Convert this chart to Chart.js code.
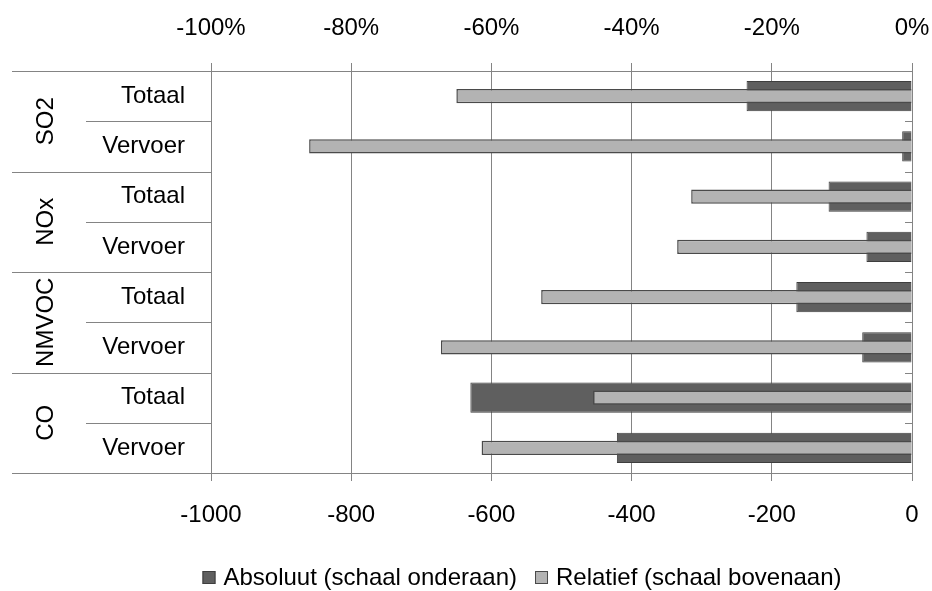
<!DOCTYPE html>
<html>
<head>
<meta charset="utf-8">
<script src="https://cdn.jsdelivr.net/npm/chart.js@4.4.1/dist/chart.umd.min.js"></script>
<style>
  html, body { margin: 0; padding: 0; background: #ffffff; }
  canvas { display: block; }
</style>
</head>
<body>
<canvas id="emissions" width="932" height="591"></canvas>
<script>
// Pollutant groups and the two rows shown for each of them
const groups = ['SO2', 'NOx', 'NMVOC', 'CO'];
const subCategories = ['Totaal', 'Vervoer'];

// Change in emissions: absolute (bottom scale) and relative in % (top scale)
const absoluteValues = [-236, -14, -119, -65, -165, -71, -630, -421];
const relativeValues = [-65.0, -86.0, -31.5, -33.5, -52.9, -67.2, -45.5, -61.4];

// Axis ranges and tick steps
const absoluteAxis = { min: -1000, max: 0, step: 200 };
const relativeAxis = { min: -100, max: 0, step: 20 };

const seriesNames = ['Absoluut (schaal onderaan)', 'Relatief (schaal bovenaan)'];

const categories = groups.flatMap(() => subCategories);

const FONT = "'Liberation Sans', Arial, sans-serif";
const GRID = '#848484';
Chart.defaults.font.family = FONT;
Chart.defaults.font.size = 24;
Chart.defaults.color = '#000000';

// Draws the two-level category frame, group names and the key below the chart
const labelFrame = {
  id: 'labelFrame',
  afterDraw(chart) {
    const { ctx, chartArea: a, scales: { y } } = chart;
    const line = (x1, y1, x2, y2) => {
      ctx.beginPath(); ctx.moveTo(x1, y1); ctx.lineTo(x2, y2); ctx.stroke();
    };
    ctx.save();
    ctx.strokeStyle = GRID;
    ctx.lineWidth = 1;

    for (let i = 0; i <= categories.length; i++) {
      const py = Math.round(y.getPixelForValue(i - 0.5)) + 0.5;
      const x0 = i % subCategories.length === 0 ? 12 : 86;
      line(x0, py, a.left, py);
      line(a.right - 7, py, a.right, py);
    }
    const lx = Math.round(a.left) + 0.5;
    line(lx, a.top - 8, lx, a.bottom + 8);

    // group names, written bottom-to-top
    ctx.fillStyle = '#000000';
    ctx.font = '24px ' + FONT;
    ctx.textAlign = 'center';
    ctx.textBaseline = 'middle';
    groups.forEach((g, k) => {
      const cy = y.getPixelForValue(k * subCategories.length + (subCategories.length - 1) / 2);
      ctx.save();
      ctx.translate(45, cy);
      ctx.rotate(-Math.PI / 2);
      ctx.fillText(g, 0, 1);
      ctx.restore();
    });

    // key
    const sets = chart.data.datasets;
    const box = 13, gap = 8, between = 18;
    ctx.textAlign = 'left';
    const widths = sets.map(d => box + gap + ctx.measureText(d.label).width);
    const total = widths.reduce((s, w) => s + w, 0) + between * (sets.length - 1);
    let x = 522 - total / 2;
    const cy = 577;
    sets.forEach((d, i) => {
      ctx.fillStyle = d.backgroundColor;
      ctx.fillRect(x, cy - 6, box, box);
      ctx.strokeStyle = d.borderColor;
      ctx.strokeRect(x + 0.5, cy - 5.5, box - 1, box - 1);
      ctx.fillStyle = '#000000';
      ctx.fillText(d.label, x + box + gap, cy + 1);
      x += widths[i] + between;
    });
    ctx.restore();
  }
};

// horizontal value axes: fixed band height, no extra side padding for edge labels
const fitValueAxis = h => scale => {
  scale.height = h;
  scale.paddingLeft = 0;
  scale.paddingRight = 0;
};

new Chart(document.getElementById('emissions'), {
  type: 'bar',
  data: {
    labels: categories,
    datasets: [
      {
        label: seriesNames[0],
        data: absoluteValues,
        xAxisID: 'x',
        backgroundColor: '#5f5f5f',
        borderColor: '#3e3e3e',
        borderWidth: 1,
        barPercentage: 0.6,
        categoryPercentage: 1,
        grouped: false,
        order: 1
      },
      {
        label: seriesNames[1],
        data: relativeValues,
        xAxisID: 'x2',
        backgroundColor: '#b3b3b3',
        borderColor: '#4a4a4a',
        borderWidth: 1.5,
        barPercentage: 0.28,
        categoryPercentage: 1,
        grouped: false,
        order: 0
      }
    ]
  },
  options: {
    indexAxis: 'y',
    responsive: false,
    animation: false,
    layout: { padding: { left: 0, right: 20, top: 0, bottom: 0 } },
    plugins: {
      legend: { display: false },
      tooltip: { enabled: false }
    },
    scales: {
      y: {
        type: 'category',
        position: 'left',
        grid: { display: false, drawTicks: false },
        border: { display: false },
        ticks: { padding: 26, autoSkip: false, font: { size: 24 } },
        afterFit(scale) { scale.width = 211; }
      },
      x: {
        type: 'linear',
        position: 'bottom',
        min: absoluteAxis.min,
        max: absoluteAxis.max,
        grid: { color: GRID, lineWidth: 1, drawTicks: true, tickLength: 8, tickColor: GRID },
        border: { display: true, color: GRID, width: 1 },
        ticks: {
          stepSize: absoluteAxis.step,
          padding: 20,
          maxRotation: 0,
          autoSkip: false,
          callback: v => String(v)
        },
        afterFit: fitValueAxis(118)
      },
      x2: {
        type: 'linear',
        position: 'top',
        min: relativeAxis.min,
        max: relativeAxis.max,
        grid: { drawOnChartArea: false, drawTicks: true, tickLength: 8, color: GRID },
        border: { display: true, color: GRID, width: 1 },
        ticks: {
          stepSize: relativeAxis.step,
          padding: 20,
          maxRotation: 0,
          autoSkip: false,
          callback: v => v + '%'
        },
        afterFit: fitValueAxis(71)
      }
    }
  },
  plugins: [labelFrame]
});
</script>
</body>
</html>
